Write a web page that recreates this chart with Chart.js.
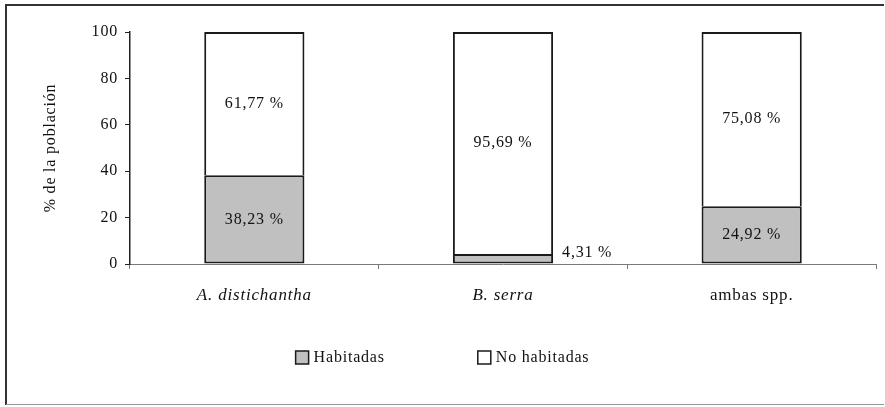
<!DOCTYPE html>
<html lang="es">
<head>
<meta charset="UTF-8">
<title>Población habitada</title>
<script src="https://cdn.jsdelivr.net/npm/chart.js"></script>
<style>
  body { margin: 0; background: #fff; }
  #wrap { width: 885px; height: 407px; position: relative; }
</style>
</head>
<body>
<div id="wrap"><canvas id="grafico"></canvas></div>
<script>
// datos
const especies = ['A. distichantha', 'B. serra', 'ambas spp.'];
const habitadas = [38.23, 4.31, 24.92];
const noHabitadas = [61.77, 95.69, 75.08];
const marcasY = [0, 20, 40, 60, 80, 100];

const FUENTE = '"Liberation Serif", "Times New Roman", serif';
const TINTA = '#111';
const ESPACIO = '0.8px';

// el texto del gráfico va algo espaciado
const espaciado = {
  id: 'espaciado',
  beforeUpdate(chart) { chart.ctx.letterSpacing = ESPACIO; },
  beforeDraw(chart) { chart.ctx.letterSpacing = ESPACIO; }
};

// porcentajes dentro de cada tramo (o al lado si el tramo es muy bajo)
const etiquetas = {
  id: 'etiquetas',
  afterDatasetsDraw(chart) {
    const c = chart.ctx;
    c.save();
    c.font = '16px ' + FUENTE;
    c.fillStyle = TINTA;
    c.textBaseline = 'middle';
    chart.data.datasets.forEach((ds, i) => {
      chart.getDatasetMeta(i).data.forEach((bar, j) => {
        const txt = ds.data[j].toFixed(2).replace('.', ',') + ' %';
        if (Math.abs(bar.base - bar.y) < 20) {
          c.textAlign = 'left';
          c.fillText(txt, bar.x + bar.width / 2 + 9, bar.y - 1);
        } else {
          c.textAlign = 'center';
          c.fillText(txt, bar.x, (bar.y + bar.base) / 2);
        }
      });
    });
    c.restore();
  }
};

// leyenda propia, centrada bajo el gráfico
const leyenda = {
  id: 'leyenda',
  afterDraw(chart) {
    const c = chart.ctx;
    const caja = 13, hueco = 5, sep = 93, base = 362;
    c.save();
    c.font = '16px ' + FUENTE;
    const items = chart.data.datasets.map(ds => ({
      ds, w: caja + hueco + c.measureText(ds.label).width
    }));
    const total = items.reduce((s, it) => s + it.w, 0) + sep * (items.length - 1);
    let x = chart.width / 2 - total / 2;
    items.forEach(it => {
      c.fillStyle = it.ds.backgroundColor;
      c.fillRect(x, base - 11, caja, caja);
      c.strokeStyle = '#1a1a1a';
      c.lineWidth = 1.5;
      c.strokeRect(x, base - 11, caja, caja);
      c.fillStyle = TINTA;
      c.textAlign = 'left';
      c.textBaseline = 'alphabetic';
      c.fillText(it.ds.label, x + caja + hueco, base);
      x += it.w + sep;
    });
    c.restore();
  }
};

// marco exterior
const marco = {
  id: 'marco',
  afterDraw(chart) {
    const c = chart.ctx;
    c.save();
    c.strokeStyle = '#333';
    c.lineWidth = 2;
    c.beginPath();
    c.moveTo(6, 405); c.lineTo(6, 5); c.lineTo(884, 5);
    c.stroke();
    c.strokeStyle = '#999';
    c.lineWidth = 1;
    c.beginPath();
    c.moveTo(6, 404.5); c.lineTo(884, 404.5);
    c.stroke();
    c.restore();
  }
};

new Chart(document.getElementById('grafico'), {
  type: 'bar',
  data: {
    labels: especies,
    datasets: [
      { label: 'Habitadas', data: habitadas, backgroundColor: '#c0c0c0', borderColor: '#1a1a1a',
        borderWidth: 2, borderSkipped: false, categoryPercentage: 1, barPercentage: 0.403 },
      // sin borde inferior: el tramo gris ya marca la separación
      { label: 'No habitadas', data: noHabitadas, backgroundColor: '#ffffff', borderColor: '#1a1a1a',
        borderWidth: { top: 2, left: 2, right: 2, bottom: 0 }, borderSkipped: false,
        categoryPercentage: 1, barPercentage: 0.403 }
    ]
  },
  options: {
    responsive: true,
    maintainAspectRatio: false,
    animation: false,
    layout: { padding: { left: 41, top: 32, right: 9, bottom: 83 } },
    plugins: { legend: { display: false }, tooltip: { enabled: false } },
    scales: {
      x: {
        stacked: true,
        grid: { drawOnChartArea: false, offset: true, tickLength: 5, color: '#7a7a7a' },
        border: { color: '#7a7a7a', width: 1 },
        ticks: {
          color: TINTA,
          padding: 16,
          font: ctx => ({ family: FUENTE, size: 17, style: ctx.index < 2 ? 'italic' : 'normal' })
        },
        afterFit: s => { s.height = 60; }
      },
      y: {
        stacked: true,
        min: 0,
        max: 100,
        afterBuildTicks: s => { s.ticks = marcasY.map(v => ({ value: v })); },
        grid: { drawOnChartArea: false, tickLength: 5, color: '#222' },
        border: { color: '#222', width: 1.5 },
        ticks: { color: TINTA, padding: 7, font: { family: FUENTE, size: 16 } },
        title: { display: true, text: '% de la población', color: TINTA, padding: 0,
                 font: { family: FUENTE, size: 16 } },
        afterFit: s => { s.width = 89; }
      }
    }
  },
  plugins: [espaciado, etiquetas, leyenda, marco]
});
</script>
</body>
</html>
